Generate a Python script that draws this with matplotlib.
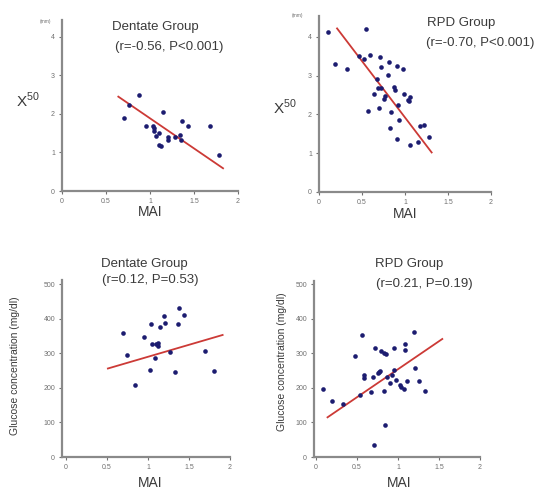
import matplotlib.pyplot as plt
import numpy as np

plt.rcParams['font.family'] = ['Liberation Sans', 'DejaVu Sans']
plt.rcParams['mathtext.fontset'] = 'custom'
plt.rcParams['mathtext.rm'] = 'Liberation Sans'

W, H = 544, 492

# top left: Dentate group, X50 vs MAI
dent_mai_x50 = [0.71, 0.76, 0.87, 0.95, 1.03, 1.04, 1.05, 1.07, 1.10, 1.10, 1.12,
                1.15, 1.21, 1.21, 1.28, 1.34, 1.35, 1.36, 1.43, 1.68, 1.78]
dent_x50 = [1.90, 2.23, 2.50, 1.69, 1.69, 1.57, 1.63, 1.44, 1.50, 1.19, 1.18,
            2.04, 1.32, 1.41, 1.41, 1.45, 1.32, 1.81, 1.69, 1.69, 0.93]
dent_x50_fit_x = [0.64, 1.83]
dent_x50_fit_y = [2.45, 0.59]

# top right: RPD group, X50 vs MAI
rpd_mai_x50 = [0.10, 0.55, 0.19, 0.32, 0.47, 0.52, 0.59, 0.71, 0.81, 0.72, 0.91, 0.98,
               0.80, 0.68, 0.69, 0.72, 0.87, 0.88, 0.64, 0.76, 0.77, 0.99, 1.03, 1.06,
               1.05, 0.92, 0.70, 0.57, 0.84, 0.93, 0.83, 1.18, 1.22, 0.91, 1.06, 1.15, 1.28]
rpd_x50 = [4.12, 4.21, 3.30, 3.17, 3.52, 3.43, 3.53, 3.47, 3.35, 3.22, 3.24, 3.17,
           3.03, 2.91, 2.68, 2.69, 2.71, 2.62, 2.53, 2.40, 2.47, 2.52, 2.38, 2.45,
           2.34, 2.24, 2.17, 2.09, 2.07, 1.85, 1.66, 1.70, 1.73, 1.36, 1.21, 1.28, 1.42]
rpd_x50_fit_x = [0.21, 1.31]
rpd_x50_fit_y = [4.22, 1.02]

# bottom left: Dentate group, glucose vs MAI
dent_mai_glu = [0.69, 0.74, 0.84, 0.95, 1.02, 1.04, 1.05, 1.10, 1.12, 1.12, 1.09,
                1.15, 1.20, 1.21, 1.27, 1.33, 1.37, 1.38, 1.44, 1.69, 1.80]
dent_glu = [358, 296, 207, 348, 252, 384, 327, 328, 331, 320, 287,
            377, 408, 389, 304, 246, 385, 431, 410, 307, 249]
dent_glu_fit_x = [0.51, 1.91]
dent_glu_fit_y = [256, 353]

# bottom right: RPD group, glucose vs MAI
rpd_mai_glu = [0.09, 0.19, 0.33, 0.48, 0.56, 0.58, 0.59, 0.54, 0.67, 0.70, 0.72, 0.75,
               0.77, 0.78, 0.79, 0.83, 0.85, 0.84, 0.83, 0.71, 0.87, 0.90, 0.93, 0.95,
               0.95, 0.97, 1.02, 1.04, 1.07, 1.08, 1.09, 1.11, 1.20, 1.21, 1.26, 1.33]
rpd_glu = [197, 161, 155, 292, 354, 230, 237, 180, 188, 231, 316, 244,
           247, 249, 306, 301, 299, 93, 191, 36, 232, 213, 239, 253,
           317, 224, 208, 203, 196, 328, 309, 219, 361, 257, 221, 191]
rpd_glu_fit_x = [0.14, 1.54]
rpd_glu_fit_y = [115, 342]

fig = plt.figure(figsize=(W / 100, H / 100), dpi=100)

spine_col = '#8a8a8a'
tick_col = '#707070'
dot_col = '#1c1c70'
line_col = '#cc3a36'


def fx(px):
    return px / W


def fy(py):
    return 1 - py / H


def make_ax(left, right, bottom, top, xlim, ylim, yticks):
    ax = fig.add_axes([fx(left), fy(bottom), fx(right) - fx(left), fy(top) - fy(bottom)])
    ax.set_xlim(*xlim)
    ax.set_ylim(*ylim)
    for s in ['top', 'right']:
        ax.spines[s].set_visible(False)
    for s in ['left', 'bottom']:
        ax.spines[s].set_color(spine_col)
        ax.spines[s].set_linewidth(1.6)
    ax.set_xticks([0, 0.5, 1, 1.5, 2])
    ax.set_xticklabels(['0', '0.5', '1', '1.5', '2'])
    ax.set_yticks(yticks)
    ax.tick_params(labelsize=5, colors=tick_col, length=2, width=0.8, pad=3)
    return ax


def scatter_fit(ax, x, y, lx, ly):
    ax.plot(lx, ly, color=line_col, lw=1.3, zorder=2)
    ax.scatter(x, y, s=11, color=dot_col, zorder=3, linewidths=0)


ax1 = make_ax(62, 238, 191, 20, (0, 2), (0, 4.44), [0, 1, 2, 3, 4])
scatter_fit(ax1, dent_mai_x50, dent_x50, dent_x50_fit_x, dent_x50_fit_y)

ax2 = make_ax(319, 491, 192, 16, (0, 2), (0, 4.54), [0, 1, 2, 3, 4])
scatter_fit(ax2, rpd_mai_x50, rpd_x50, rpd_x50_fit_x, rpd_x50_fit_y)

ax3 = make_ax(62, 230, 457, 280, (-0.05, 2), (0, 512), [0, 100, 200, 300, 400, 500])
scatter_fit(ax3, dent_mai_glu, dent_glu, dent_glu_fit_x, dent_glu_fit_y)

ax4 = make_ax(314, 480, 457, 281, (-0.025, 2), (0, 510), [0, 100, 200, 300, 400, 500])
scatter_fit(ax4, rpd_mai_glu, rpd_glu, rpd_glu_fit_x, rpd_glu_fit_y)

txt = '#3a3a3a'
fs = 9.5

# top left texts
fig.text(fx(155), fy(27), 'Dentate Group', ha='center', va='center', fontsize=fs, color=txt)
fig.text(fx(169), fy(47), '(r=-0.56, P<0.001)', ha='center', va='center', fontsize=fs, color=txt)
fig.text(fx(28), fy(100), r'$\mathrm{X}^{50}$', ha='center', va='center', fontsize=11, color=txt)
fig.text(fx(45), fy(21), '(mm)', ha='center', va='center', fontsize=3.5, color=tick_col)
fig.text(fx(150), fy(212), 'MAI', ha='center', va='center', fontsize=10, color=txt)

# top right texts
fig.text(fx(427), fy(23), 'RPD Group', ha='left', va='center', fontsize=fs, color=txt)
fig.text(fx(426), fy(43), '(r=-0.70, P<0.001)', ha='left', va='center', fontsize=fs, color=txt)
fig.text(fx(285), fy(107), r'$\mathrm{X}^{50}$', ha='center', va='center', fontsize=11, color=txt)
fig.text(fx(298), fy(16), '(mm)', ha='center', va='center', fontsize=3.5, color=tick_col)
fig.text(fx(405), fy(214), 'MAI', ha='center', va='center', fontsize=10, color=txt)

# bottom left texts
fig.text(fx(144), fy(264), 'Dentate Group', ha='center', va='center', fontsize=fs, color=txt)
fig.text(fx(150), fy(280), '(r=0.12, P=0.53)', ha='center', va='center', fontsize=fs, color=txt)
fig.text(fx(15), fy(366), 'Glucose concentration (mg/dl)', ha='center', va='center',
         rotation=90, fontsize=7.5, color=txt)
fig.text(fx(150), fy(483), 'MAI', ha='center', va='center', fontsize=10, color=txt)

# bottom right texts
fig.text(fx(409), fy(264), 'RPD Group', ha='center', va='center', fontsize=fs, color=txt)
fig.text(fx(424), fy(284), '(r=0.21, P=0.19)', ha='center', va='center', fontsize=fs, color=txt)
fig.text(fx(282), fy(362), 'Glucose concentration (mg/dl)', ha='center', va='center',
         rotation=90, fontsize=7.5, color=txt)
fig.text(fx(399), fy(483), 'MAI', ha='center', va='center', fontsize=10, color=txt)

fig.savefig('out.png', dpi=100)
